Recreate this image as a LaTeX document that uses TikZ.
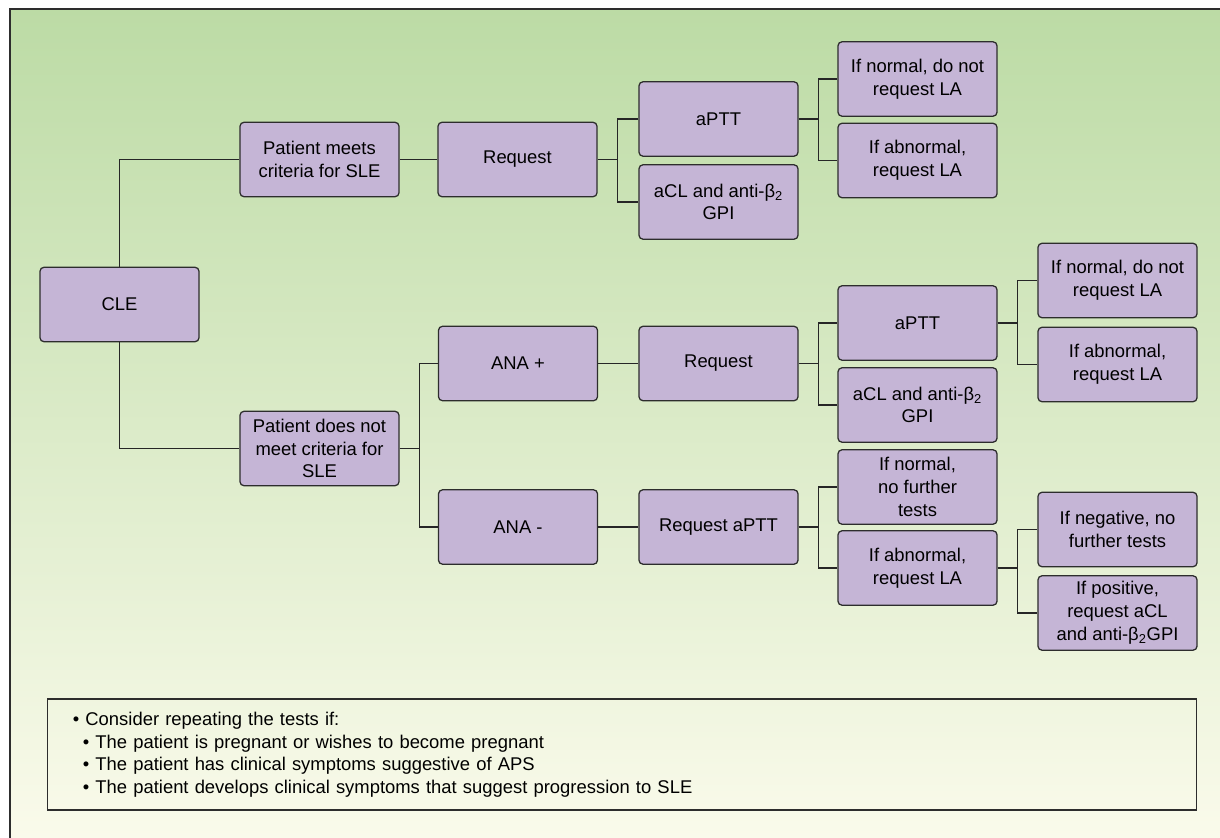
\documentclass[tikz,border=0pt]{standalone}
\usepackage{fontspec}
\setmainfont{Liberation Sans}
\definecolor{boxfill}{RGB}{197,181,214}
\definecolor{boxline}{RGB}{45,45,45}
\definecolor{bgtop}{RGB}{188,219,165}
\definecolor{bgmid}{RGB}{221,236,207}
\definecolor{bgbot}{RGB}{251,251,236}
\tikzset{
  box/.style={draw=boxline, fill=boxfill, rounded corners=0.1cm, line width=0.9pt,
    minimum width=3.975cm, minimum height=1.86cm, align=center, inner sep=1pt,
    font=\fontsize{13.1pt}{16.2pt}\selectfont},
  link/.style={draw=black!85, line width=0.9pt},
}
\begin{document}
\begin{tikzpicture}[x=0.025cm, y=-0.025cm]
  \useasboundingbox (0,0) rectangle (1220,837);
  \clip (0,0) rectangle (1220,837);
  \draw[line width=0.9pt, draw=boxline, top color=bgtop, middle color=bgmid, bottom color=bgbot]
    (10,9) rectangle (1230,850);

  \node[box] (cle) at (119.5,304.5) {CLE};
  \node[box] (meets) at (319.5,159.5) {Patient meets\\criteria for SLE};
  \node[box] (notmeets) at (319.5,448.5) {Patient does not\\meet criteria for\\SLE};

  \node[box] (reqA) at (517.5,159.5) {Request};
  \node[box] (apttA) at (718.5,119) {aPTT};
  \node[box] (aclA) at (718.5,202) {aCL and anti-β\textsubscript{2}\\GPI};
  \node[box] (normA) at (917.5,79) {If normal, do not\\request LA};
  \node[box] (abnA) at (917.5,160.5) {If abnormal,\\request LA};

  \node[box] (anapos) at (518,363.5) {ANA +};
  \node[box] (reqB) at (718.5,363.5) {Request};
  \node[box] (apttB) at (917.5,323) {aPTT};
  \node[box] (aclB) at (917.5,405) {aCL and anti-β\textsubscript{2}\\GPI};
  \node[box] (normB) at (1117.5,280.5) {If normal, do not\\request LA};
  \node[box] (abnB) at (1117.5,364.5) {If abnormal,\\request LA};

  \node[box] (ananeg) at (518,527) {ANA -};
  \node[box] (reqC) at (718.5,527) {Request aPTT};
  \node[box] (normC) at (917.5,487) {If normal,\\no further\\tests};
  \node[box] (abnC) at (917.5,568) {If abnormal,\\request LA};
  \node[box] (negC) at (1117.5,529.5) {If negative, no\\further tests};
  \node[box] (posC) at (1117.5,613) {If positive,\\request aCL\\and anti-β\textsubscript{2}GPI};

  \draw[link] (cle.north) |- (meets.west);
  \draw[link] (cle.south) |- (notmeets.west);
  \foreach \p/\c in {meets/reqA, reqA/apttA, reqA/aclA, apttA/normA, apttA/abnA,
      notmeets/anapos, notmeets/ananeg, anapos/reqB, reqB/apttB, reqB/aclB,
      apttB/normB, apttB/abnB, ananeg/reqC, reqC/normC, reqC/abnC, abnC/negC, abnC/posC} {
    \draw[link] (\p.east) -- ++(20,0) |- (\c.west);
  }

  \node[draw=boxline, line width=0.9pt, text width=27.45cm, inner xsep=0.625cm,
    minimum height=2.775cm, align=left, font=\fontsize{13.1pt}{16pt}\selectfont]
    (notes) at (622,754.5) {\textbullet\ Consider repeating the tests if:\\
    \hspace*{0.25cm}\textbullet\ The patient is pregnant or wishes to become pregnant\\
    \hspace*{0.25cm}\textbullet\ The patient has clinical symptoms suggestive of APS\\
    \hspace*{0.25cm}\textbullet\ The patient develops clinical symptoms that suggest progression to SLE};
\end{tikzpicture}
\end{document}
